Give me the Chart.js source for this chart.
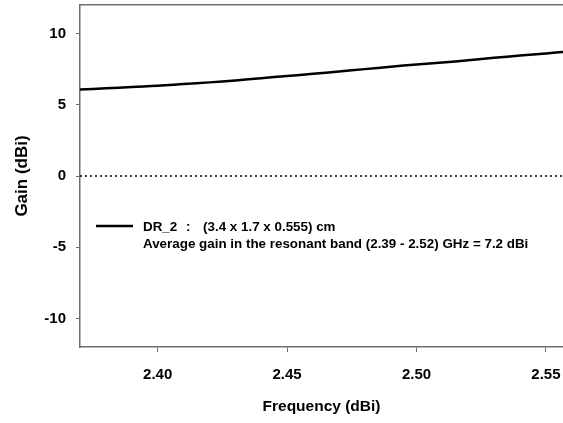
<!DOCTYPE html>
<html>
<head>
<meta charset="utf-8">
<script src="https://cdn.jsdelivr.net/npm/chart.js@4.4.1/dist/chart.umd.min.js"></script>
<style>
  html, body { margin: 0; padding: 0; background: #fff; }
  #wrap { width: 563px; height: 423px; }
</style>
</head>
<body>
<div id="wrap"><canvas id="chart-gain" width="563" height="423"></canvas></div>
<script>
// datos
const frecuencias = [2.37, 2.38, 2.39, 2.40, 2.41, 2.42, 2.43, 2.44, 2.45, 2.46, 2.47, 2.48, 2.49, 2.50, 2.51, 2.52, 2.53, 2.54, 2.55, 2.56];
const gananciaDR2 = [6.07, 6.15, 6.25, 6.33, 6.45, 6.57, 6.71, 6.86, 7.02, 7.17, 7.33, 7.50, 7.67, 7.83, 7.97, 8.12, 8.29, 8.45, 8.60, 8.76];
const lineaCero = [0, 0];
const ticksX = [2.40, 2.45, 2.50, 2.55];
const ticksY = [-10, -5, 0, 5, 10];

const leyendaSerie = 'DR_2';
const leyendaDim = '(3.4 x 1.7 x 0.555) cm';
const leyendaPromedio = 'Average gain in the resonant band (2.39 - 2.52) GHz = 7.2 dBi';

const X_MIN = 2.37, X_MAX = 2.5566;
const FUENTE = '"Liberation Sans", Arial, sans-serif';
const GRIS = '#6e6e6e';

const puntos = frecuencias.map((f, i) => ({ x: f, y: gananciaDR2[i] }));
const puntosCero = [X_MIN, 2.56].map((f, i) => ({ x: f, y: lineaCero[i] }));

// quitar el relleno automatico que Chart.js agrega por las etiquetas
function sinRelleno(s) {
    s.paddingTop = 0;
    s.paddingBottom = 0;
    s.paddingLeft = 0;
    s.paddingRight = 0;
}

// leyenda dibujada a mano (linea + dos renglones)
const pluginLeyenda = {
    id: 'leyendaDR2',
    afterDraw(chart) {
        const ctx = chart.ctx;
        ctx.save();
        ctx.strokeStyle = '#000';
        ctx.lineWidth = 2.5;
        ctx.beginPath();
        ctx.moveTo(96, 226);
        ctx.lineTo(133, 226);
        ctx.stroke();

        ctx.fillStyle = '#000';
        ctx.font = 'bold 13.4px ' + FUENTE;
        ctx.textBaseline = 'middle';
        ctx.textAlign = 'left';
        ctx.fillText(leyendaSerie, 143, 227);
        ctx.fillText(':', 186, 227);
        ctx.fillText(leyendaDim, 203, 227);
        ctx.fillText(leyendaPromedio, 143, 244);
        ctx.restore();
    }
};

new Chart(document.getElementById('chart-gain').getContext('2d'), {
    type: 'line',
    data: {
        datasets: [
            {
                label: leyendaSerie,
                data: puntos,
                borderColor: '#000',
                borderWidth: 2.5,
                pointRadius: 0,
                tension: 0.4,
                fill: false
            },
            {
                label: 'cero',
                data: puntosCero,
                borderColor: '#000',
                borderWidth: 1.5,
                borderDash: [2, 3],
                pointRadius: 0,
                fill: false
            }
        ]
    },
    options: {
        responsive: false,
        animation: false,
        layout: { padding: 0 },
        plugins: { legend: { display: false }, tooltip: { enabled: false } },
        scales: {
            x: {
                type: 'linear',
                position: 'bottom',
                min: X_MIN,
                max: X_MAX,
                afterBuildTicks: s => { s.ticks = ticksX.map(v => ({ value: v })); },
                afterFit: s => { s.height = 76; sinRelleno(s); },
                border: { display: true, color: GRIS, width: 1.5 },
                grid: { display: true, drawOnChartArea: false, drawTicks: true, tickLength: 5, color: GRIS, lineWidth: 1 },
                ticks: {
                    color: '#000',
                    padding: 14,
                    maxRotation: 0,
                    font: { family: FUENTE, size: 15, weight: 'bold' },
                    callback: v => Number(v).toFixed(2)
                },
                title: {
                    display: true,
                    text: 'Frequency (dBi)',
                    color: '#000',
                    padding: { top: 0, bottom: 7 },
                    font: { family: FUENTE, size: 15.5, weight: 'bold' }
                }
            },
            x2: {
                type: 'linear',
                position: 'top',
                min: X_MIN,
                max: X_MAX,
                afterFit: s => { s.height = 5; sinRelleno(s); },
                border: { display: true, color: GRIS, width: 1.5 },
                grid: { display: false, drawTicks: false },
                ticks: { display: false }
            },
            y: {
                type: 'linear',
                min: -12,
                max: 12,
                afterBuildTicks: s => { s.ticks = ticksY.map(v => ({ value: v })); },
                afterFit: s => { s.width = 80; sinRelleno(s); },
                border: { display: true, color: GRIS, width: 1.5 },
                grid: { display: true, drawOnChartArea: false, drawTicks: true, tickLength: 4, color: GRIS, lineWidth: 1 },
                ticks: {
                    color: '#000',
                    padding: 10,
                    font: { family: FUENTE, size: 15, weight: 'bold' },
                    callback: v => String(v)
                },
                title: {
                    display: true,
                    text: 'Gain (dBi)',
                    color: '#000',
                    padding: { top: 12, bottom: 0 },
                    font: { family: FUENTE, size: 17, weight: 'bold' }
                }
            }
        }
    },
    plugins: [pluginLeyenda]
});
</script>
</body>
</html>
